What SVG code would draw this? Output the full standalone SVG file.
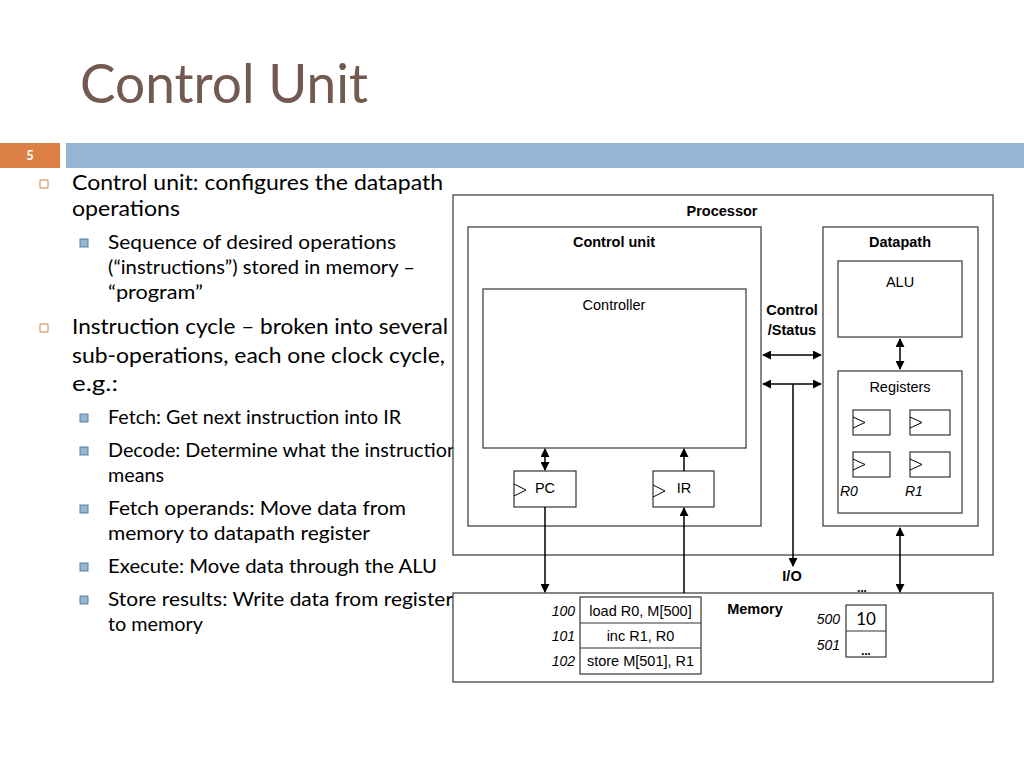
<svg xmlns="http://www.w3.org/2000/svg" width="1024" height="768" viewBox="0 0 1024 768">
<defs>
<marker id="ah" viewBox="0 0 10 10" refX="9" refY="5" markerWidth="9" markerHeight="9" markerUnits="userSpaceOnUse" orient="auto-start-reverse">
<path d="M0,0 L10,5 L0,10 z" fill="#000"/>
</marker>
<style>
text{font-family:Lato,"Liberation Sans",sans-serif;fill:#000}
.title{font-size:55px;fill:#735a50}
.l1{font-size:21px}
.l2{font-size:18.5px}
.box{fill:#fff;stroke:#444;stroke-width:1.3}
.reg{fill:#fff;stroke:#333;stroke-width:1.2}
.b{font-family:"Liberation Sans",Arial,sans-serif;font-size:14.5px;font-weight:bold;text-anchor:middle}
.n{font-family:"Liberation Sans",Arial,sans-serif;font-size:14.5px;text-anchor:middle}
.it{font-family:"Liberation Sans",Arial,sans-serif;font-size:14px;font-style:italic}
.con line{stroke:#000;stroke-width:1.5;fill:none}
.tri{fill:none;stroke:#000;stroke-width:1}
</style>
</defs>
<rect width="1024" height="768" fill="#fff"/>
<text class="title" x="80" y="103" textLength="288" lengthAdjust="spacingAndGlyphs">Control Unit</text>
<rect x="0" y="143" width="60" height="25" fill="#dd8047"/>
<text x="30" y="160" font-size="13" font-weight="bold" text-anchor="middle" style="fill:#fff">5</text>
<rect x="66" y="143" width="958" height="25" fill="#94b6d2"/>

<g id="bullets">
<rect x="40" y="180" width="8" height="8" fill="none" stroke="#dd8047" stroke-width="1"/>
<text class="l1" x="72" y="190" textLength="371" lengthAdjust="spacingAndGlyphs">Control unit: configures the datapath</text>
<text class="l1" x="72" y="216" textLength="108" lengthAdjust="spacingAndGlyphs">operations</text>
<rect x="80" y="239" width="8" height="8" fill="#94b6d2" stroke="#5a7f9f" stroke-width="1"/>
<text class="l2" x="108" y="249" textLength="288" lengthAdjust="spacingAndGlyphs">Sequence of desired operations</text>
<text class="l2" x="108" y="274" textLength="307" lengthAdjust="spacingAndGlyphs">(“instructions”) stored in memory –</text>
<text class="l2" x="108" y="299" textLength="95" lengthAdjust="spacingAndGlyphs">“program”</text>
<rect x="40" y="324" width="8" height="8" fill="none" stroke="#dd8047" stroke-width="1"/>
<text class="l1" x="72" y="334" textLength="376" lengthAdjust="spacingAndGlyphs">Instruction cycle – broken into several</text>
<text class="l1" x="72" y="363" textLength="373" lengthAdjust="spacingAndGlyphs">sub-operations, each one clock cycle,</text>
<text class="l1" x="72" y="391" textLength="46" lengthAdjust="spacingAndGlyphs">e.g.:</text>
<rect x="80" y="414" width="8" height="8" fill="#94b6d2" stroke="#5a7f9f" stroke-width="1"/>
<text class="l2" x="108" y="424" textLength="293" lengthAdjust="spacingAndGlyphs">Fetch: Get next instruction into IR</text>
<rect x="80" y="447" width="8" height="8" fill="#94b6d2" stroke="#5a7f9f" stroke-width="1"/>
<text class="l2" x="108" y="457" textLength="350" lengthAdjust="spacingAndGlyphs">Decode: Determine what the instruction</text>
<text class="l2" x="108" y="482" textLength="56" lengthAdjust="spacingAndGlyphs">means</text>
<rect x="80" y="505" width="8" height="8" fill="#94b6d2" stroke="#5a7f9f" stroke-width="1"/>
<text class="l2" x="108" y="515" textLength="298" lengthAdjust="spacingAndGlyphs">Fetch operands: Move data from</text>
<text class="l2" x="108" y="540" textLength="262" lengthAdjust="spacingAndGlyphs">memory to datapath register</text>
<rect x="80" y="563" width="8" height="8" fill="#94b6d2" stroke="#5a7f9f" stroke-width="1"/>
<text class="l2" x="108" y="573" textLength="329" lengthAdjust="spacingAndGlyphs">Execute: Move data through the ALU</text>
<rect x="80" y="596" width="8" height="8" fill="#94b6d2" stroke="#5a7f9f" stroke-width="1"/>
<text class="l2" x="108" y="606" textLength="345" lengthAdjust="spacingAndGlyphs">Store results: Write data from register</text>
<text class="l2" x="108" y="631" textLength="95" lengthAdjust="spacingAndGlyphs">to memory</text>
</g>

<g id="processor">
<rect class="box" x="453" y="195" width="540" height="360"/>
<text class="b" x="722" y="216">Processor</text>
</g>
<g id="controlunit">
<rect class="box" x="468" y="227" width="293" height="299"/>
<text class="b" x="614" y="247">Control unit</text>
</g>
<g id="controller">
<rect class="box" x="483" y="289" width="263" height="159"/>
<text class="n" x="614" y="310">Controller</text>
</g>
<g id="pc">
<rect class="reg" x="514" y="471" width="62" height="36"/>
<path class="tri" d="M514,484 L526,490 L514,496"/>
<text class="n" x="545" y="493">PC</text>
</g>
<g id="ir">
<rect class="reg" x="653" y="471" width="61" height="36"/>
<path class="tri" d="M653,485 L665,491 L653,497"/>
<text class="n" x="684" y="493">IR</text>
</g>
<g id="datapath">
<rect class="box" x="823" y="227" width="155" height="299"/>
<text class="b" x="900" y="247">Datapath</text>
</g>
<g id="alu">
<rect class="box" x="838" y="261" width="124" height="76"/>
<text class="n" x="900" y="287">ALU</text>
</g>
<g id="registers">
<rect class="box" x="838" y="371" width="124" height="142"/>
<text class="n" x="900" y="392">Registers</text>
<rect class="reg" x="853" y="410" width="37" height="25"/>
<path class="tri" d="M853,417 L865,422.5 L853,428"/>
<rect class="reg" x="910" y="410" width="40" height="25"/>
<path class="tri" d="M910,417 L922,422.5 L910,428"/>
<rect class="reg" x="853" y="452" width="37" height="25"/>
<path class="tri" d="M853,459 L865,464.5 L853,470"/>
<rect class="reg" x="910" y="452" width="40" height="25"/>
<path class="tri" d="M910,459 L922,464.5 L910,470"/>
<text class="it" x="840" y="496">R0</text>
<text class="it" x="905" y="496">R1</text>
</g>
<g id="labels">
<text class="b" x="792" y="315">Control</text>
<text class="b" x="792" y="335">/Status</text>
<text class="b" x="792" y="581">I/O</text>
</g>
<g id="memory">
<rect class="box" x="453" y="593" width="540" height="89"/>
<text class="b" x="755" y="614">Memory</text>
<rect class="reg" x="580" y="597" width="121" height="77"/>
<line x1="580" y1="623" x2="701" y2="623" stroke="#333" stroke-width="1.2"/>
<line x1="580" y1="648" x2="701" y2="648" stroke="#333" stroke-width="1.2"/>
<text class="n" x="640.5" y="616">load R0, M[500]</text>
<text class="n" x="640.5" y="641">inc R1, R0</text>
<text class="n" x="640.5" y="666">store M[501], R1</text>
<text class="it" x="575" y="616" text-anchor="end">100</text>
<text class="it" x="575" y="641" text-anchor="end">101</text>
<text class="it" x="575" y="666" text-anchor="end">102</text>
<rect class="reg" x="846" y="605" width="40" height="52"/>
<line x1="846" y1="631" x2="886" y2="631" stroke="#333" stroke-width="1.2"/>
<text x="866" y="625" font-size="17" text-anchor="middle" font-family="Liberation Sans, sans-serif">10</text>
<text x="866" y="655" font-size="13" font-weight="bold" text-anchor="middle">...</text>
<text class="it" x="840" y="624" text-anchor="end">500</text>
<text class="it" x="840" y="650" text-anchor="end">501</text>
<text x="862" y="592" font-size="13" font-weight="bold" text-anchor="middle">...</text>
</g>
<g id="connectors" class="con">
<line x1="545" y1="449" x2="545" y2="470" marker-start="url(#ah)" marker-end="url(#ah)"/>
<line x1="684" y1="471" x2="684" y2="449" marker-end="url(#ah)"/>
<line x1="545" y1="507" x2="545" y2="592" marker-end="url(#ah)"/>
<line x1="684" y1="593" x2="684" y2="508" marker-end="url(#ah)"/>
<line x1="900" y1="339" x2="900" y2="369" marker-start="url(#ah)" marker-end="url(#ah)"/>
<line x1="763" y1="355" x2="821" y2="355" marker-start="url(#ah)" marker-end="url(#ah)"/>
<line x1="763" y1="384" x2="821" y2="384" marker-start="url(#ah)" marker-end="url(#ah)"/>
<line x1="793" y1="384" x2="793" y2="566" marker-end="url(#ah)"/>
<line x1="900" y1="528" x2="900" y2="592" marker-start="url(#ah)" marker-end="url(#ah)"/>
</g>
</svg>
